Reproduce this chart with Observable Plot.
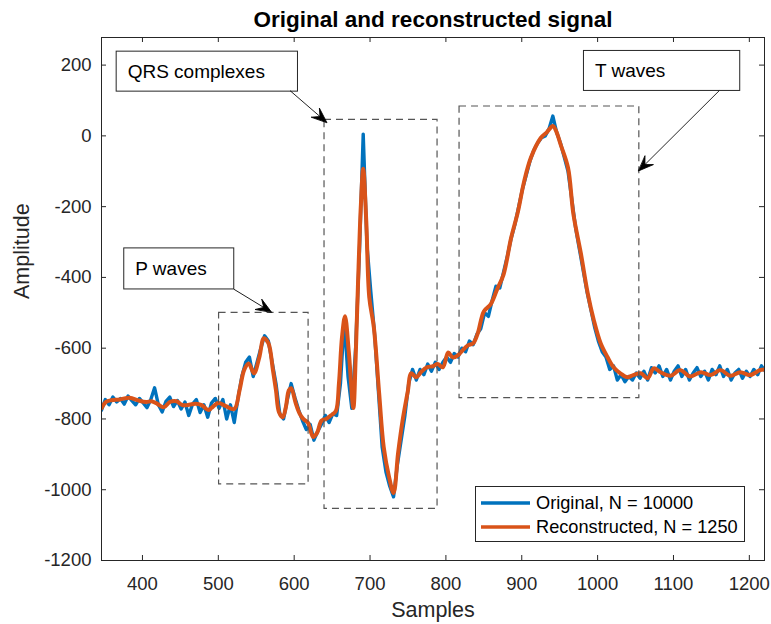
<!DOCTYPE html>
<html>
<head>
<meta charset="utf-8">
<script src="https://cdn.jsdelivr.net/npm/d3@7"></script>
<script src="https://cdn.jsdelivr.net/npm/@observablehq/plot@0.6"></script>
<style>
  body { margin: 0; background: #fff; }
  #wrap { position: relative; width: 771px; height: 624px; font-family: "Liberation Sans", Arial, sans-serif; }
  .legend { position: absolute; left: 475px; top: 486px; width: 268px; height: 54px; border: 1px solid #262626; background: #fff; }
  .row { position: absolute; left: 0; height: 24px; display: flex; align-items: center; font-size: 18.2px; color: #000; white-space: nowrap; }
  .row svg { margin-left: 5px; margin-right: 6px; }
</style>
</head>
<body>
<div id="wrap"></div>
<script>
// ---- axis settings
const xDomain = [346, 1220];
const yDomain = [-1200, 278];
const xTicks = [400, 500, 600, 700, 800, 900, 1000, 1100, 1200];
const yTicks = [-1200, -1000, -800, -600, -400, -200, 0, 200];

// ---- original signal (N = 10000), sampled every 5 samples from 346
const origStart = 346;
const origStep = 5;
const origValues = [
  -775,-745,-760,-738,-752,-742,-758,-735,-748,-760,-742,-755,-768,-745,-712,-760,
  -780,-750,-738,-765,-748,-772,-752,-790,-758,-745,-782,-760,-795,-755,-742,-770,
  -745,-800,-760,-810,-740,-680,-640,-625,-680,-640,-600,-565,-580,-640,-700,-785,
  -800,-745,-700,-740,-775,-805,-830,-815,-860,-835,-815,-790,-810,-785,-790,
  -700,-520,-680,-770,-600,-330,5,-310,-440,-560,-720,-880,-950,-990,-1020,-930,
  -860,-790,-700,-660,-690,-660,-675,-645,-665,-640,-660,-640,-625,-640,-615,-625,
  -600,-610,-580,-590,-560,-545,-500,-510,-465,-425,-430,-385,-340,-290,-250,-200,
  -150,-110,-70,-40,-20,-5,0,20,56,10,-20,-60,-100,-180,-260,-320,
  -380,-440,-490,-540,-580,-610,-625,-660,-650,-690,-675,-695,-680,-690,-670,-685,
  -665,-690,-655,-670,-650,-680,-660,-690,-665,-650,-680,-660,-690,-670,-655,-680,
  -665,-690,-660,-675,-650,-680,-660,-690,-670,-660,-685,-665,-680,-660,-675,-650,-665
];

// ---- reconstructed signal (N = 1250)
const reconSamples = [
  346,352,359,370,383,395,405,412,420,428,436,445,452,458,470,478,487,491,500,510,
  521,528,534,540,547,554,560,566,572,576,580,585,589,593,596,602,607,612,618,625,
  630,636,642,649,655,659,663,667,672,678,681,684,688,691,695,699,705,712,718,725,
  731,737,743,750,754,761,767,775,783,789,796,803,809,816,822,829,836,842,850,859,
  868,876,886,895,903,912,925,933,941,946,951,961,968,978,987,995,1004,1013,1021,1030,
  1039,1047,1057,1066,1074,1083,1096,1109,1122,1136,1149,1162,1175,1188,1201,1214,1220
];
const reconValues = [
  -770,-752,-747,-745,-740,-748,-752,-750,-758,-767,-752,-750,-760,-761,-757,-761,-775,-769,-755,-764,
  -772,-719,-662,-643,-671,-626,-572,-586,-662,-719,-781,-795,-767,-719,-713,-755,-784,-800,-810,-851,
  -840,-805,-800,-789,-777,-700,-570,-510,-610,-769,-630,-428,-192,-93,-240,-456,-541,-727,-879,-963,
  -1009,-896,-803,-719,-671,-682,-668,-654,-651,-645,-654,-612,-626,-620,-606,-592,-586,-558,-496,-476,
  -431,-392,-288,-214,-130,-62,-6,10,28,10,-23,-90,-220,-333,-445,-521,-586,-625,-654,-671,
  -682,-676,-671,-685,-657,-668,-678,-662,-680,-668,-676,-662,-678,-668,-676,-662,-660
];

// ---- dashed regions (samples / amplitude)
const regionStart  = [501, 640, 818];
const regionEnd    = [619, 789, 1055];
const regionTop    = [-500, 45, 83];
const regionBottom = [-985, -1054, -741];

// ---- annotation text boxes
const noteText   = ["P waves", "QRS complexes", "T waves"];
const noteX1     = [376, 366, 982];
const noteX2     = [521, 605, 1188];
const noteTop    = [-318, 238, 240];
const noteBottom = [-434, 125, 127];
// arrows: tail -> tip
const arrowFromX = [521, 595, 1160];
const arrowFromY = [-434, 127, 127];
const arrowToX   = [570, 643, 1054];
const arrowToY   = [-498, 38, -99];

// ---- legend
const seriesNames  = ["Original, N = 10000", "Reconstructed, N = 1250"];
const seriesColors = ["#0072BD", "#D95319"];

// ---------------------------------------------------------------
const W = 771, H = 624, mt = 37, mr = 7, mb = 64, ml = 101;
const innerW = W - ml - mr, innerH = H - mt - mb;
const kx = innerW / (xDomain[1] - xDomain[0]);
const ky = innerH / (yDomain[1] - yDomain[0]);

const original = origValues.map((v, i) => ({x: origStart + i * origStep, y: v}));
const recon = reconSamples.map((s, i) => ({x: s, y: reconValues[i]}));
const regions = regionStart.map((s, i) => ({x1: s, x2: regionEnd[i], y1: regionBottom[i], y2: regionTop[i]}));
const notes = noteText.map((t, i) => ({t, x1: noteX1[i], x2: noteX2[i], y1: noteBottom[i], y2: noteTop[i]}));
const arrows = arrowFromX.map((fx, i) => {
  const dxp = (arrowToX[i] - fx) * kx;
  const dyp = -(arrowToY[i] - arrowFromY[i]) * ky;
  return {x: arrowToX[i], y: arrowToY[i], len: Math.hypot(dxp, dyp), rot: Math.atan2(dxp, -dyp) * 180 / Math.PI};
});

const arrowShape = {
  draw(ctx, l) {
    ctx.moveTo(0, 0);
    ctx.lineTo(0, -l + 6);
    ctx.moveTo(0, -l);
    ctx.lineTo(-6, -l + 15);
    ctx.lineTo(0, -l + 9);
    ctx.lineTo(6, -l + 15);
    ctx.closePath();
  }
};

const font = "Liberation Sans, Arial, sans-serif";
const ink = "#262626";
const fmt = d => String(d);

const chart = Plot.plot({
  width: W, height: H,
  marginTop: mt, marginRight: mr, marginBottom: mb, marginLeft: ml,
  style: {fontFamily: font, fontSize: "18.5px", color: ink, background: "#fff"},
  x: {domain: xDomain},
  y: {domain: yDomain},
  length: {type: "identity"},
  marks: [
    Plot.line(original, {x: "x", y: "y", stroke: seriesColors[0], strokeWidth: 3.4, strokeLinejoin: "round", clip: true}),
    Plot.line(recon, {x: "x", y: "y", stroke: seriesColors[1], strokeWidth: 4, strokeLinejoin: "round", curve: "catmull-rom", clip: true}),
    Plot.rect(regions, {x1: "x1", x2: "x2", y1: "y1", y2: "y2", fill: "none", stroke: "#555", strokeWidth: 1.2, strokeDasharray: "7,5"}),
    Plot.rect(notes, {x1: "x1", x2: "x2", y1: "y1", y2: "y2", fill: "white", stroke: ink, strokeWidth: 1}),
    Plot.text(notes, {x: "x1", y: d => (d.y1 + d.y2) / 2, text: "t", dx: 11, textAnchor: "start", fontSize: 19, fill: "#000"}),
    Plot.vector(arrows, {x: "x", y: "y", length: "len", rotate: "rot", anchor: "end", shape: arrowShape, stroke: "#000", fill: "#000", strokeWidth: 0.8}),
    // inward ticks on all four sides
    Plot.tickX(xTicks, {x: d => d, insetTop: innerH - 5, stroke: ink, strokeWidth: 1}),
    Plot.tickX(xTicks, {x: d => d, insetBottom: innerH - 5, stroke: ink, strokeWidth: 1}),
    Plot.tickY(yTicks, {y: d => d, insetRight: innerW - 5, stroke: ink, strokeWidth: 1}),
    Plot.tickY(yTicks, {y: d => d, insetLeft: innerW - 5, stroke: ink, strokeWidth: 1}),
    Plot.axisX({ticks: xTicks, tickFormat: fmt, tickSize: 0, tickPadding: 16, label: null, fill: ink}),
    Plot.axisY({ticks: yTicks, tickFormat: fmt, tickSize: 0, tickPadding: 10, label: null, fill: ink}),
    Plot.frame({stroke: ink, strokeWidth: 1}),
    Plot.text(["Original and reconstructed signal"], {frameAnchor: "top", dy: -11, lineAnchor: "bottom", fontWeight: "bold", fontSize: 22.5, fill: "#000"}),
    Plot.text(["Samples"], {frameAnchor: "bottom", dy: 41, lineAnchor: "top", fontSize: 21.5, fill: ink}),
    Plot.text(["Amplitude"], {frameAnchor: "left", dx: -79, rotate: -90, fontSize: 21.5, fill: ink})
  ]
});

const wrap = document.getElementById("wrap");
wrap.appendChild(chart);

const legend = document.createElement("div");
legend.className = "legend";
seriesNames.forEach((name, i) => {
  const row = document.createElement("div");
  row.className = "row";
  row.style.top = (4 + i * 24) + "px";
  row.innerHTML = `<svg width="49" height="6"><line x1="0" x2="49" y1="3" y2="3" stroke="${seriesColors[i]}" stroke-width="3.5"/></svg><span>${name}</span>`;
  legend.appendChild(row);
});
wrap.appendChild(legend);
</script>
</body>
</html>
